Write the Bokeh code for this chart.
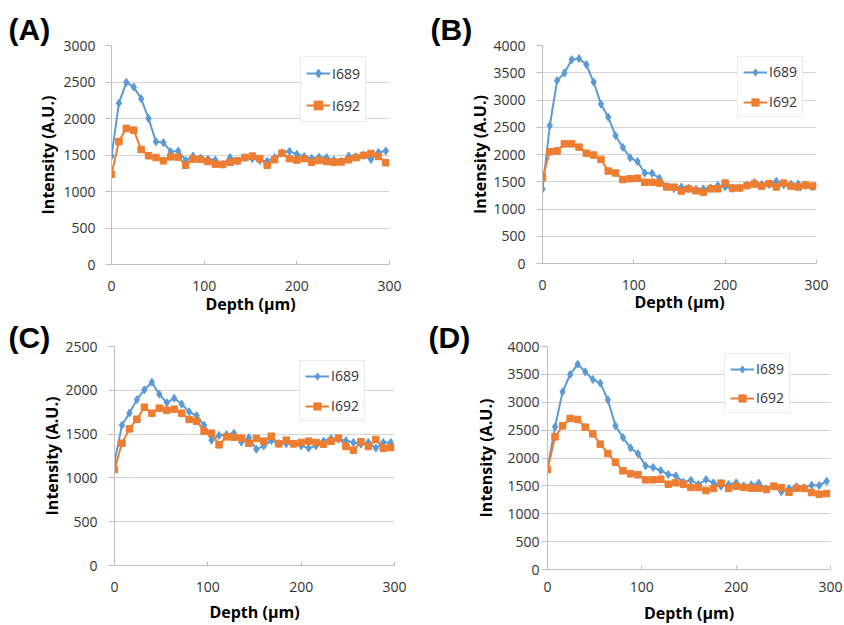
from bokeh.plotting import figure
from bokeh.layouts import column, row
from bokeh.models import Range1d, FixedTicker, Legend, LegendItem
from bokeh.embed import file_html
from bokeh.resources import INLINE

# ---------------- data ----------------
depth = [0, 8, 16, 24, 32, 40, 48, 56, 64, 72, 80, 88, 96, 104, 112, 120, 128, 136,
         144, 152, 160, 168, 176, 184, 192, 200, 208, 216, 224, 232, 240, 248, 256,
         264, 272, 280, 288, 296]

a_i689 = [1485, 2210, 2495, 2430, 2270, 2000, 1680, 1670, 1545, 1555, 1425, 1485, 1460,
          1445, 1430, 1375, 1465, 1415, 1465, 1450, 1425, 1415, 1465, 1530, 1550, 1510,
          1480, 1455, 1470, 1465, 1430, 1415, 1485, 1475, 1495, 1440, 1535, 1555]
a_i692 = [1235, 1685, 1865, 1840, 1575, 1490, 1465, 1420, 1475, 1470, 1360, 1445, 1440,
          1410, 1375, 1370, 1400, 1420, 1465, 1485, 1450, 1360, 1435, 1525, 1450, 1430,
          1450, 1400, 1425, 1410, 1400, 1405, 1435, 1465, 1495, 1520, 1480, 1395]

b_i689 = [1365, 2530, 3355, 3495, 3740, 3760, 3650, 3330, 2925, 2685, 2345, 2130, 1940,
          1870, 1660, 1655, 1565, 1415, 1375, 1405, 1380, 1360, 1370, 1390, 1430, 1405,
          1375, 1390, 1435, 1485, 1450, 1450, 1510, 1445, 1455, 1460, 1430, 1405]
b_i692 = [1575, 2050, 2065, 2195, 2195, 2135, 2025, 1990, 1910, 1695, 1660, 1540, 1555,
          1565, 1490, 1490, 1475, 1405, 1400, 1330, 1370, 1335, 1305, 1370, 1370, 1475,
          1385, 1385, 1430, 1460, 1420, 1465, 1405, 1475, 1420, 1405, 1440, 1420]

c_i689 = [1185, 1600, 1740, 1893, 2005, 2092, 1956, 1857, 1910, 1842, 1754, 1710, 1600,
          1430, 1485, 1495, 1510, 1408, 1460, 1327, 1365, 1426, 1393, 1390, 1390, 1366,
          1340, 1366, 1420, 1450, 1442, 1423, 1405, 1385, 1404, 1340, 1404, 1404]
c_i692 = [1096, 1396, 1560, 1670, 1807, 1739, 1796, 1773, 1785, 1739, 1667, 1648, 1533,
          1511, 1377, 1469, 1465, 1454, 1396, 1450, 1419, 1476, 1389, 1431, 1389, 1404,
          1419, 1404, 1385, 1419, 1454, 1358, 1317, 1412, 1358, 1438, 1339, 1347]

d_i689 = [1812, 2559, 3187, 3498, 3683, 3546, 3408, 3342, 3043, 2577, 2368, 2182, 2075,
          1859, 1830, 1776, 1704, 1680, 1567, 1602, 1525, 1614, 1555, 1495, 1525, 1555,
          1501, 1519, 1549, 1447, 1489, 1393, 1453, 1483, 1465, 1513, 1507, 1584]
d_i692 = [1794, 2380, 2577, 2709, 2691, 2553, 2433, 2248, 2081, 1925, 1770, 1716, 1698,
          1608, 1608, 1620, 1531, 1555, 1531, 1471, 1471, 1417, 1453, 1549, 1453, 1495,
          1471, 1459, 1459, 1435, 1495, 1465, 1387, 1459, 1453, 1381, 1351, 1363]

x_ticks = [0, 100, 200, 300]
y_ticks_a = [0, 500, 1000, 1500, 2000, 2500, 3000]
y_ticks_b = [0, 500, 1000, 1500, 2000, 2500, 3000, 3500, 4000]
y_ticks_c = [0, 500, 1000, 1500, 2000, 2500]
y_ticks_d = [0, 500, 1000, 1500, 2000, 2500, 3000, 3500, 4000]

panel_labels = ["(A)", "(B)", "(C)", "(D)"]
series_names = ["I689", "I692"]
x_title = "Depth (µm)"
y_title = "Intensity (A.U.)"

# ---------------- styling / layout ----------------
BLUE = "#5B9BD5"
ORANGE = "#ED7D31"
TICK_FONT = "Open Sans"

layouts = [
    dict(fw=278, fh=219, l=111, r=33, t=45, b=52, lx=189, ly=142, item=22, sp=10,
         toff=-103, tst=0, tva="bottom", ys=10, yls=1, xs=16, xls=-1),
    dict(fw=274, fh=218, l=120, r=27, t=44, b=54, lx=195, ly=146, item=18, sp=11,
         toff=-112, tst=0, tva="bottom", ys=11, yls=-1, xs=16, xls=-2),
    dict(fw=280, fh=219, l=114, r=28, t=29, b=60, lx=185, ly=144, item=18, sp=11,
         toff=-106, tst=-16, tva="middle", ys=11, yls=-1, xs=16, xls=6),
    dict(fw=283, fh=223, l=125, r=13, t=29, b=56, lx=177, ly=156, item=18, sp=10,
         toff=-119, tst=-16, tva="middle", ys=2, yls=7, xs=12, xls=7),
]


def make_panel(cfg, label, s1, s2, yticks):
    p = figure(frame_width=cfg["fw"], frame_height=cfg["fh"],
               x_range=Range1d(0, 300), y_range=Range1d(yticks[0], yticks[-1]),
               output_backend="svg", toolbar_location=None,
               min_border_left=cfg["l"], min_border_right=cfg["r"],
               min_border_top=cfg["t"], min_border_bottom=cfg["b"])
    p.outline_line_color = None
    p.background_fill_color = "white"
    p.xgrid.visible = False
    p.ygrid.grid_line_color = "#d4d4d4"
    p.ygrid.grid_line_width = 1
    p.xaxis.ticker = FixedTicker(ticks=x_ticks)
    p.yaxis.ticker = FixedTicker(ticks=yticks)
    for ax in (p.xaxis[0], p.yaxis[0]):
        ax.axis_line_color = "#bfbfbf"
        ax.major_tick_line_color = "#bfbfbf"
        ax.minor_tick_line_color = None
        ax.major_label_text_font = TICK_FONT
        ax.major_label_text_font_size = "14px"
        ax.major_label_text_color = "#333333"
        ax.axis_label_text_font = TICK_FONT
        ax.axis_label_text_font_style = "bold"
        ax.axis_label_text_font_size = "16px"
        ax.axis_label_text_color = "#000000"
    p.xaxis.major_tick_in = 4
    p.xaxis.major_tick_out = 0
    p.yaxis.major_tick_in = 0
    p.yaxis.major_tick_out = 6
    p.yaxis.major_label_standoff = cfg["ys"]
    p.yaxis.axis_label_standoff = cfg["yls"]
    p.xaxis.major_label_standoff = cfg["xs"]
    p.xaxis.axis_label_standoff = cfg["xls"]
    p.xaxis.axis_label = x_title
    p.yaxis.axis_label = y_title

    # panel letter as the figure title, shifted left of the frame
    p.title.text = label
    p.title.align = "left"
    p.title.offset = cfg["toff"]
    p.title.standoff = cfg["tst"]
    p.title.vertical_align = cfg["tva"]
    p.title.text_font = "Liberation Sans"
    p.title.text_font_style = "bold"
    p.title.text_font_size = "30px"
    p.title.text_color = "#000000"

    l1 = p.line(depth, s1, line_color=BLUE, line_width=2)
    m1 = p.scatter(depth, s1, marker="diamond", size=8, fill_color=BLUE, line_color=BLUE)
    l2 = p.line(depth, s2, line_color=ORANGE, line_width=2)
    m2 = p.scatter(depth, s2, marker="square", size=6.5, fill_color=ORANGE, line_color=ORANGE)

    legend = Legend(items=[LegendItem(label=series_names[0], renderers=[l1, m1]),
                           LegendItem(label=series_names[1], renderers=[l2, m2])],
                    location=(cfg["lx"], cfg["ly"]))
    legend.border_line_color = "#d9d9d9"
    legend.border_line_width = 1
    legend.background_fill_color = "white"
    legend.background_fill_alpha = 1
    legend.label_text_font = TICK_FONT
    legend.label_text_font_size = "14px"
    legend.label_text_color = "#333333"
    legend.glyph_width = 24
    legend.glyph_height = cfg["item"]
    legend.label_height = cfg["item"]
    legend.padding = 5
    legend.spacing = cfg["sp"]
    legend.label_standoff = 2
    legend.margin = 0
    p.add_layout(legend)
    return p


pA = make_panel(layouts[0], panel_labels[0], a_i689, a_i692, y_ticks_a)
pB = make_panel(layouts[1], panel_labels[1], b_i689, b_i692, y_ticks_b)
pC = make_panel(layouts[2], panel_labels[2], c_i689, c_i692, y_ticks_c)
pD = make_panel(layouts[3], panel_labels[3], d_i689, d_i692, y_ticks_d)

page = column(row(pA, pB, spacing=0), row(pC, pD, spacing=0), spacing=0)

open("out.html", "w").write(file_html(page, INLINE))
